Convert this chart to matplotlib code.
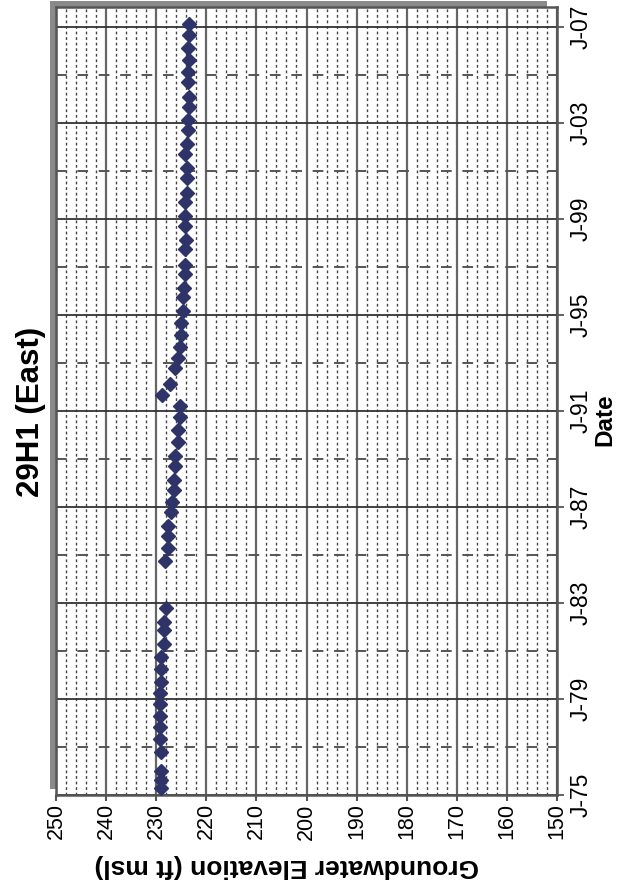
import matplotlib
matplotlib.use("Agg")
import matplotlib.pyplot as plt
import pandas as pd
from datetime import datetime
from matplotlib.patches import Rectangle

plt.rcParams['font.family'] = ['Liberation Sans', 'DejaVu Sans']
plt.rcParams['lines.scale_dashes'] = False

# Well 29H1 (East) water levels
dates = ['1975-04-15', '1975-08-15', '1976-01-01', '1976-10-15', '1977-05-01',
         '1977-11-01', '1978-04-15', '1978-10-15', '1979-04-01', '1979-09-15',
         '1980-04-01', '1980-10-01', '1981-04-15', '1981-11-15', '1982-03-15',
         '1982-10-15',
         '1984-10-01', '1985-04-15', '1985-10-15', '1986-03-15', '1986-10-15',
         '1987-03-15', '1987-09-15', '1988-02-15', '1988-09-15', '1989-02-15',
         '1989-09-15', '1990-03-15', '1990-10-01', '1991-03-15', '1991-09-01',
         '1992-02-15', '1992-10-15', '1993-03-15', '1993-09-01', '1994-03-01',
         '1994-09-01', '1995-03-01', '1995-10-01', '1996-02-15', '1996-09-15',
         '1997-02-01', '1997-10-01', '1998-02-15', '1998-09-15', '1999-02-15',
         '1999-09-15', '2000-02-01', '2000-09-15', '2001-02-15', '2001-09-15',
         '2002-02-15', '2002-09-15', '2003-02-15', '2003-09-01', '2004-02-01',
         '2004-09-15', '2005-02-15', '2005-08-15', '2006-02-15', '2006-09-01',
         '2007-02-15']
elev = [229.0, 229.0, 229.0, 229.0, 229.3,
        229.3, 229.3, 229.3, 229.3, 229.0,
        229.0, 229.0, 228.5, 228.5, 228.5,
        228.1,
        228.2, 227.7, 227.7, 227.7, 227.1,
        226.9, 226.5, 226.5, 226.2, 226.2,
        225.7, 225.7, 225.3, 225.3, 228.9,
        227.3, 226.2, 225.7, 225.3, 225.1,
        225.1, 224.7, 224.6, 224.5, 224.2,
        224.2, 224.2, 224.1, 224.2, 224.2,
        224.2, 223.9, 223.9, 223.9, 224.2,
        223.9, 223.7, 223.7, 223.5, 223.5,
        223.7, 223.7, 223.5, 223.7, 223.5,
        223.5]

date_ticks = [datetime(y, 1, 1) for y in range(1975, 2008, 4)]
date_labels = ['J-75', 'J-79', 'J-83', 'J-87', 'J-91', 'J-95', 'J-99', 'J-03', 'J-07']
date_minor = [datetime(y, 1, 1) for y in range(1977, 2008, 4)]
elev_ticks = list(range(150, 251, 10))
elev_minor = list(range(150, 251, 2))

W, H = 621, 888
fig = plt.figure(figsize=(W / 100, H / 100), dpi=100)

# plot area in pixels (the chart is turned a quarter turn)
x0, x1, ytop, ybot = 56, 557, 7, 795
ax = fig.add_axes([x0 / W, (H - ybot) / H, (x1 - x0) / W, (ybot - ytop) / H])
ax.set_zorder(2)

# grey drop shadow behind the plot area
fig.patches.append(Rectangle(((x0 - 6) / W, (H - ybot + 6) / H), (x1 - x0 - 4) / W,
                             (ybot - ytop) / H, transform=fig.transFigure,
                             facecolor='#8a8a8a', edgecolor='none', zorder=1))
ax.set_facecolor('white')

ax.plot(elev, pd.to_datetime(dates), linestyle='none', marker='D', markersize=7.3,
        color='#2e3468', zorder=5)

ax.set_xlim(250, 150)
ax.set_ylim(datetime(1975, 1, 1), datetime(2007, 11, 1))

ax.set_xticks(elev_ticks)
ax.set_xticks(elev_minor, minor=True)
ax.yaxis.tick_right()
ax.set_yticks(date_ticks, labels=date_labels)
ax.set_yticks(date_minor, minor=True)

ax.grid(axis='x', which='major', color='#666666', linewidth=1.6)
ax.grid(axis='x', which='minor', color='#444444', linewidth=1.0, linestyle=(0, (2, 2)))
ax.grid(axis='y', which='major', color='#333333', linewidth=1.3)
ax.grid(axis='y', which='minor', color='#555555', linewidth=1.4, linestyle=(0, (7.7, 7.7)))
ax.set_axisbelow(True)

ax.tick_params(axis='x', which='major', direction='out', length=4, width=1.5,
               color='#555555', labelrotation=90, labelsize=15.5, pad=2)
ax.tick_params(axis='y', which='major', direction='out', length=5, width=1.3,
               color='#555555', labelrotation=90, labelsize=16.5, pad=4)
ax.tick_params(which='minor', length=0)
for t in ax.get_yticklabels():
    t.set_verticalalignment('center')

for s in ax.spines.values():
    s.set_color('#555555')
    s.set_linewidth(1.8)

fig.text(31 / W, 1 - 412 / H, '29H1 (East)', rotation=90, fontsize=22.5,
         fontweight='bold', ha='center', va='center')
fig.text(605 / W, 1 - 420 / H, 'Date', rotation=90, fontsize=17.5,
         fontweight='bold', ha='center', va='center')
fig.text(287 / W, 1 - 866 / H, 'Groundwater Elevation (ft msl)', rotation=180,
         fontsize=19, fontweight='bold', ha='center', va='center')

fig.savefig('out.png', dpi=100)
